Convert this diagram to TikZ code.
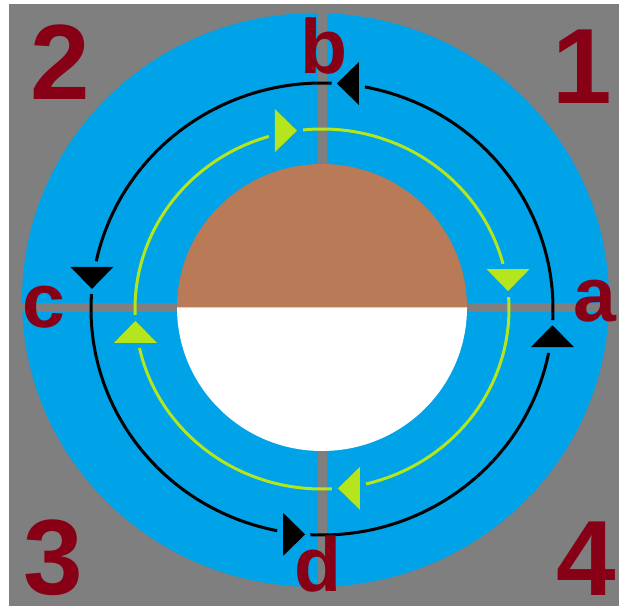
\documentclass[tikz,border=0pt]{standalone}
\usepackage{fontspec}
\setmainfont{Liberation Sans}
\usepackage{tikz}
\definecolor{paintgray}{HTML}{7F7F7F}
\definecolor{paintblue}{HTML}{00A2E8}
\definecolor{paintbrown}{HTML}{B97A57}
\definecolor{paintlime}{HTML}{B5E61D}
\definecolor{paintred}{HTML}{880015}
\tikzstyle{quadrant}=[text=paintred, font=\bfseries\fontsize{107}{107}\selectfont, inner sep=0pt, anchor=base]
\tikzstyle{crossing}=[text=paintred, font=\bfseries\fontsize{77}{77}\selectfont, inner sep=0pt, anchor=base]
\tikzstyle{crossbar}=[draw=paintgray, line width=9pt]
\tikzstyle{outerflow}=[draw=black, line width=3pt]
\tikzstyle{innerflow}=[draw=paintlime, line width=3pt]
% filled arrow head: colour, tip point, direction
\newcommand{\flowtip}[3]{\fill[#1, shift={#2}, rotate=#3] (0,0) -- (-22,21.5) -- (-22,-21.5) -- cycle;}

\begin{document}
\begin{tikzpicture}[x=1pt, y=1pt]

	\useasboundingbox[fill=white] (0,0) rectangle (619,606);
	\fill[paintgray] (9,0) rectangle (619,602);
	\fill[paintblue] (315.5,306) ellipse [x radius=293.5, y radius=287];

	\coordinate (ctr) at (322,297);
	\coordinate (core) at (322,298.5);
	\coordinate (rimN) at (322,593);
	\coordinate (rimS) at (322,19);
	\coordinate (rimW) at (22,298.5);
	\coordinate (rimE) at (609,298.5);

\draw[crossbar] (rimN) -- (rimS);
\draw[crossbar] (rimW) -- (rimE);

\fill[paintbrown] ([xshift=-145pt]core) arc[start angle=180, end angle=0, x radius=145, y radius=143.5] -- cycle;
\fill[white] ([xshift=-145pt]core) arc[start angle=180, end angle=360, x radius=145, y radius=143.5] -- cycle;

% outer loop, counter-clockwise
\draw[outerflow] ([shift={(-2.8:231 and 226)}]ctr) arc[start angle=-2.8, end angle=79.3, x radius=231, y radius=226];
\draw[outerflow] ([shift={(87.6:231 and 226)}]ctr) arc[start angle=87.6, end angle=167.8, x radius=231, y radius=226];
\draw[outerflow] ([shift={(176.2:231 and 226)}]ctr) arc[start angle=176.2, end angle=258.8, x radius=231, y radius=226];
\draw[outerflow] ([shift={(267.1:231 and 226)}]ctr) arc[start angle=267.1, end angle=348.8, x radius=231, y radius=226];
\flowtip{black}{([shift={(86.3:231 and 226)}]ctr)}{180}
\flowtip{black}{([shift={(174.9:231 and 226)}]ctr)}{-90}
\flowtip{black}{([shift={(265.8:231 and 226)}]ctr)}{0}
\flowtip{black}{([shift={(355.9:231 and 226)}]ctr)}{90}

% inner loop, clockwise
\draw[innerflow] ([shift={(95.8:187 and 180)}]ctr) arc[start angle=95.8, end angle=14.5, x radius=187, y radius=180];
\draw[innerflow] ([shift={(3.8:187 and 180)}]ctr) arc[start angle=3.8, end angle=-76.4, x radius=187, y radius=180];
\draw[innerflow] ([shift={(-87:187 and 180)}]ctr) arc[start angle=-87, end angle=-167.5, x radius=187, y radius=180];
\draw[innerflow] ([shift={(-178.1:187 and 180)}]ctr) arc[start angle=-178.1, end angle=-253.5, x radius=187, y radius=180];
\flowtip{paintlime}{([shift={(5.7:187 and 180)}]ctr)}{-90}
\flowtip{paintlime}{([shift={(-85.1:187 and 180)}]ctr)}{180}
\flowtip{paintlime}{([shift={(-176.2:187 and 180)}]ctr)}{90}
\flowtip{paintlime}{([shift={(97.7:187 and 180)}]ctr)}{0}

	\node (one) [quadrant] at (582,502) {1};
	\node (two) [quadrant] at (60,506) {2};
	\node (three) [quadrant] at (53.5,12) {3};
	\node (four) [quadrant] at (586,11) {4};

	\node (labA) [crossing] at (595,284) {a};
	\node (labB) [crossing] at (324,532) {b};
	\node (labC) [crossing] at (44,278) {c};
	\node (labD) [crossing] at (318,15) {d};

\end{tikzpicture}
\end{document}
